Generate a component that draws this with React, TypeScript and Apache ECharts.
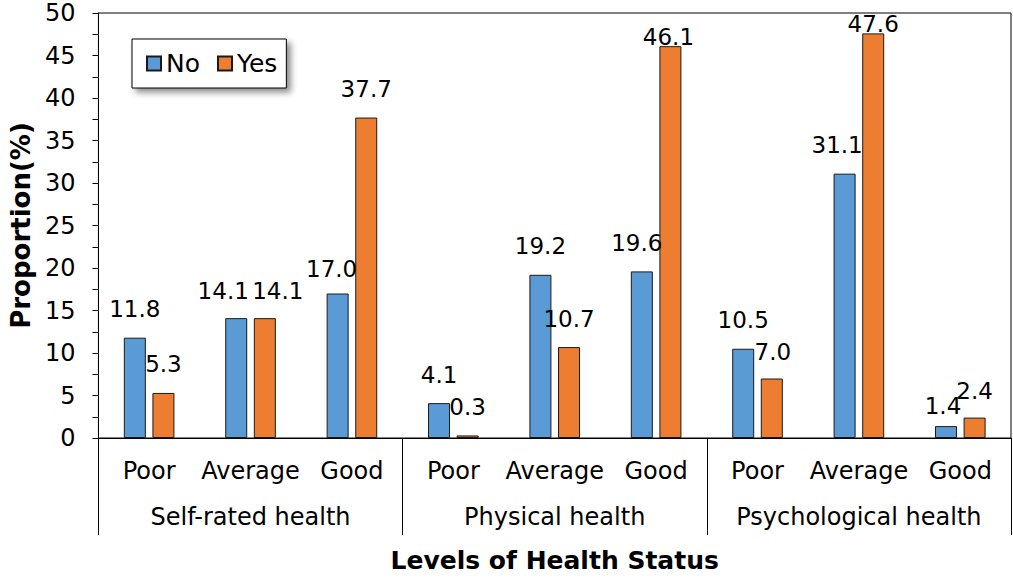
import React, { useEffect, useRef } from "react";
import * as echarts from "echarts";

const levels = ["Poor", "Average", "Good", "Poor", "Average", "Good", "Poor", "Average", "Good"];
const groups = ["Self-rated health", "Physical health", "Psychological health"];
const noValues = [11.8, 14.1, 17.0, 4.1, 19.2, 19.6, 10.5, 31.1, 1.4];
const yesValues = [5.3, 14.1, 37.7, 0.3, 10.7, 46.1, 7.0, 47.6, 2.4];
const yTicks = { min: 0, max: 50, interval: 5 };

const FONT = "DejaVu Sans";

// manual label nudges (like hand-moved Excel labels): [dx, dy]
const noNudge: Record<number, [number, number]> = {
  1: [-13, 1],
  2: [-6, 4],
  5: [-5, 0],
  7: [-7.5, 0],
  8: [-3, 8],
};
const yesNudge: Record<number, [number, number]> = {
  1: [13, 1],
  5: [-2, 19],
  6: [1, 1.5],
  7: [0, 19],
  8: [0, 2],
};

function buildData(values: number[], nudge: Record<number, [number, number]>) {
  return values.map((v, i) =>
    nudge[i] ? { value: v, label: { offset: nudge[i] } } : { value: v }
  );
}

export default function App() {
  const ref = useRef<HTMLDivElement>(null);
  useEffect(() => {
    if (!ref.current) return;
    const chart = echarts.init(ref.current, undefined, { renderer: "svg" });
    const labelStyle = {
      show: true,
      position: "top",
      distance: 17,
      fontSize: 23,
      fontFamily: FONT,
      color: "#000",
      formatter: (p: any) => Number(p.value).toFixed(1),
    };
    chart.setOption({
      animation: false,
      backgroundColor: "#fff",
      textStyle: { fontFamily: FONT },
      grid: { left: 93, right: 2, top: 13, bottom: 138, show: true, borderColor: "#000", borderWidth: 1, backgroundColor: "transparent" },
      legend: {
        left: 132,
        top: 39,
        orient: "horizontal",
        padding: [12, 9, 12, 14],
        itemGap: 17,
        itemWidth: 14,
        itemHeight: 14,
        icon: "rect",
        backgroundColor: "#fff",
        borderColor: "#000",
        borderWidth: 1,
        shadowColor: "rgba(0,0,0,0.45)",
        shadowBlur: 6,
        shadowOffsetX: 4,
        shadowOffsetY: 4,
        textStyle: { fontSize: 25, fontFamily: FONT, color: "#000" },
        data: ["No", "Yes"],
      },
      xAxis: [
        {
          type: "category",
          data: levels,
          gridIndex: 0,
          position: "bottom",
          axisLine: { show: true, lineStyle: { color: "#000", width: 1 } },
          axisTick: { show: false },
          axisLabel: { fontSize: 24, fontFamily: FONT, color: "#000", margin: 21, interval: 0 },
        },
        {
          type: "category",
          data: groups,
          gridIndex: 0,
          position: "bottom",
          axisLine: { show: false },
          axisTick: { show: true, length: 97, lineStyle: { color: "#000", width: 1 } },
          axisLabel: { fontSize: 24, fontFamily: FONT, color: "#000", margin: 67, interval: 0 },
          name: "Levels of Health Status",
          nameLocation: "middle",
          nameGap: 110,
          nameTextStyle: { fontSize: 25, fontWeight: "bold", fontFamily: FONT, color: "#000" },
        },
      ],
      yAxis: {
        type: "value",
        min: yTicks.min,
        max: yTicks.max,
        interval: yTicks.interval,
        axisLine: { show: true, lineStyle: { color: "#000", width: 1 } },
        axisTick: { show: true, length: 6, lineStyle: { color: "#000" } },
        minorTick: { show: true, splitNumber: 2, length: 6, lineStyle: { color: "#000" } },
        splitLine: { show: false },
        axisLabel: { fontSize: 24, lineHeight: 20, fontFamily: FONT, color: "#000", margin: 23 },
        name: "Proportion(%)",
        nameLocation: "middle",
        nameRotate: 90,
        nameGap: 64,
        nameTextStyle: { fontSize: 26, fontWeight: "bold", fontFamily: FONT, color: "#000" },
      },
      series: [
        {
          name: "No",
          type: "bar",
          xAxisIndex: 0,
          barWidth: 22,
          barGap: "30%",
          itemStyle: { color: "#5B9BD5", borderColor: "#1a1a1a", borderWidth: 1 },
          label: labelStyle,
          data: buildData(noValues, noNudge),
        },
        {
          name: "Yes",
          type: "bar",
          xAxisIndex: 0,
          barWidth: 22,
          barGap: "30%",
          itemStyle: { color: "#ED7D31", borderColor: "#1a1a1a", borderWidth: 1 },
          label: labelStyle,
          data: buildData(yesValues, yesNudge),
        },
      ],
    });
    return () => chart.dispose();
  }, []);
  return (
    <div
      ref={ref}
      style={{ position: "absolute", left: 0, top: 0, width: 1013, height: 578, background: "#fff" }}
    />
  );
}
